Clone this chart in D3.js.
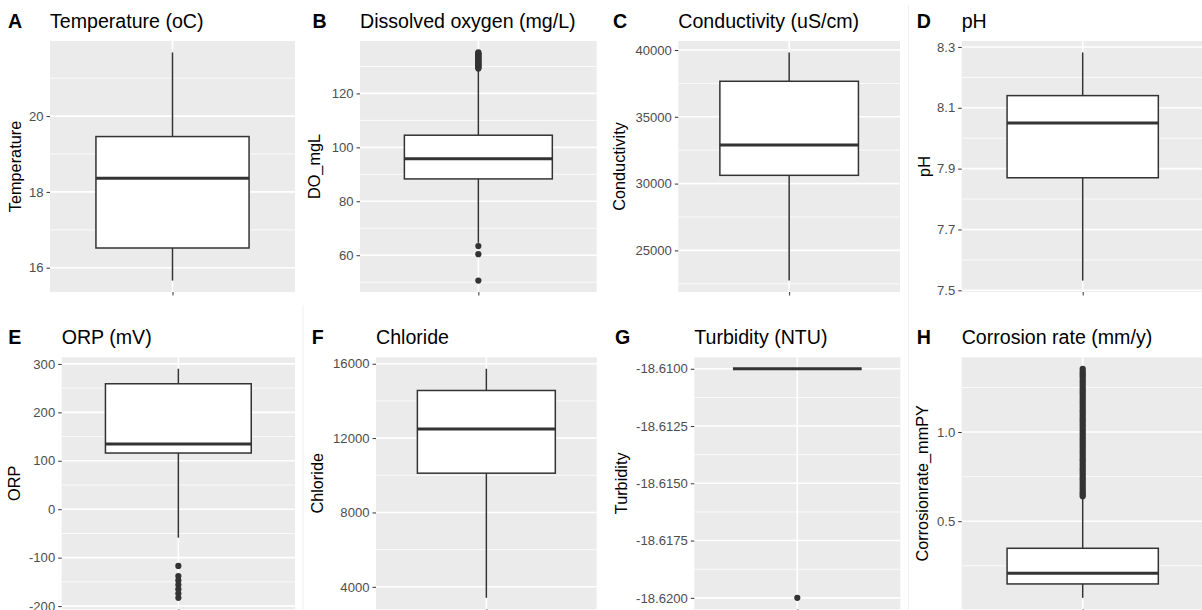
<!DOCTYPE html>
<meta charset="utf-8">
<style>
    body { margin: 0; background: #fff; }
    svg { display: block; font-family: "Liberation Sans", Arial, sans-serif; }
    .tick line { stroke: #333; }
    .tick text { fill: #4d4d4d; font-size: 13.1px; }
</style>

<body>
    <script src="https://d3js.org/d3.v7.min.js"></script>
    <svg width="1202" height="610"></svg>
    <script>
        // panel labels
        var tags = ["A", "B", "C", "D", "E", "F", "G", "H"];
        var titles = ["Temperature (oC)", "Dissolved oxygen (mg/L)", "Conductivity (uS/cm)", "pH",
            "ORP (mV)", "Chloride", "Turbidity (NTU)", "Corrosion rate (mm/y)"];
        var yLabels = ["Temperature", "DO_mgL", "Conductivity", "pH",
            "ORP", "Chloride", "Turbidity", "Corrosionrate_mmPY"];

        // box statistics
        var whiskerLow = [15.66, 64.6, 22740, 7.532, -58.8, 3407, -18.61, 0.070];
        var q1 = [16.52, 88.3, 30620, 7.870, 116, 10113, -18.61, 0.148];
        var medians = [18.36, 95.8, 32890, 8.050, 134.7, 12485, -18.61, 0.208];
        var q3 = [19.46, 104.5, 37660, 8.140, 259, 14561, -18.61, 0.348];
        var whiskerHigh = [21.68, 128.8, 39820, 8.282, 290, 15730, -18.61, 0.630];

        var outliersA = [];
        var outliersB = [50.6, 60.4, 63.4, 129.2, 129.5, 129.8, 130.1, 130.4, 130.7, 131.0, 131.3, 131.6,
            131.9, 132.2, 132.5, 132.8, 133.1, 133.4, 133.7, 134.0, 134.3, 134.6, 134.9, 135.2];
        var outliersC = [];
        var outliersD = [];
        var outliersE = [-117, -138, -147, -156, -165, -174, -183];
        var outliersF = [];
        var outliersG = [-18.62];
        var outliersH = [0.64, 0.65, 0.66, 0.672, 0.685, 0.697, 0.71, 0.722, 0.735, 0.747, 0.76, 0.772,
            0.785, 0.797, 0.81, 0.822, 0.835, 0.847, 0.86, 0.872, 0.885, 0.897, 0.91, 0.922, 0.935, 0.947,
            0.96, 0.972, 0.985, 0.997, 1.01, 1.022, 1.035, 1.047, 1.06, 1.072, 1.085, 1.097, 1.11, 1.122,
            1.135, 1.147, 1.16, 1.172, 1.185, 1.197, 1.21, 1.222, 1.235, 1.247, 1.26, 1.272, 1.285, 1.297,
            1.31, 1.32, 1.33, 1.342, 1.355];
        var outliers = [outliersA, outliersB, outliersC, outliersD, outliersE, outliersF, outliersG, outliersH];

        // y tick labels
        var ticksA = [16, 18, 20];
        var ticksB = [60, 80, 100, 120];
        var ticksC = [25000, 30000, 35000, 40000];
        var ticksD = [7.5, 7.7, 7.9, 8.1, 8.3];
        var ticksE = [-200, -100, 0, 100, 200, 300];
        var ticksF = [4000, 8000, 12000, 16000];
        var ticksG = [-18.62, -18.6175, -18.615, -18.6125, -18.61];
        var ticksH = [0.5, 1.0];
        var ticks = [ticksA, ticksB, ticksC, ticksD, ticksE, ticksF, ticksG, ticksH];
        var decimals = [0, 0, 0, 1, 0, 0, 4, 1];

        // layout of each panel (pixel positions)
        var panelLeft = [50, 360, 678.3, 961.7, 61.7, 376, 694.3, 961.7];
        var panelRight = [295, 596.7, 900, 1203.7, 295, 596.7, 900.3, 1203.7];
        var tagX = [8, 312.5, 613, 916.7, 8.3, 311.7, 615, 916.7];
        var yTitleX = [20.5, 319.8, 624.8, 929.8, 20.3, 323, 626.8, 928.3];
        var rowTop = [41, 357.3], rowBottom = [292, 609.3], rowBase = [27.5, 344];

        var svg = d3.select("svg");

        // faint cell borders seen in the picture
        svg.append("line").attr("x1", 303).attr("x2", 303).attr("y1", 305).attr("y2", 610)
            .attr("stroke", "#f0f0f0");
        svg.append("line").attr("x1", 908.5).attr("x2", 908.5).attr("y1", 5).attr("y2", 610)
            .attr("stroke", "#f0f0f0");

        tags.forEach(function(tag, i) {
            var row = i < 4 ? 0 : 1;
            var top = rowTop[row], bottom = rowBottom[row];
            var left = panelLeft[i], right = panelRight[i];

            var all = [whiskerLow[i], whiskerHigh[i]].concat(outliers[i]);
            var lo = d3.min(all), hi = d3.max(all);
            var pad = (hi - lo) * 0.05;

            var y = d3.scaleLinear().domain([lo - pad, hi + pad]).range([bottom, top]);
            // one discrete category, ggplot expands 0.6 each side
            var x = d3.scaleLinear().domain([0.4, 1.6]).range([left, right]);

            var g = svg.append("g");

            g.append("rect")
                .attr("x", left).attr("y", top)
                .attr("width", right - left).attr("height", bottom - top)
                .attr("fill", "#ebebeb");

            // minor grid halfway between the major breaks
            var t = ticks[i];
            var step = t.length > 1 ? t[1] - t[0] : 0.5;
            var minors = [];
            for (var k = -1; k < t.length; k++) {
                var v = t[0] + step * (k + 0.5);
                if (v >= lo - pad && v <= hi + pad) minors.push(v);
            }
            g.selectAll(".minor").data(minors).enter().append("line")
                .attr("x1", left).attr("x2", right)
                .attr("y1", d => y(d)).attr("y2", d => y(d))
                .attr("stroke", "#fff").attr("stroke-width", 0.8);

            g.selectAll(".major").data(t).enter().append("line")
                .attr("x1", left).attr("x2", right)
                .attr("y1", d => y(d)).attr("y2", d => y(d))
                .attr("stroke", "#fff").attr("stroke-width", 1.6);

            g.append("line")
                .attr("x1", x(1)).attr("x2", x(1))
                .attr("y1", top).attr("y2", bottom)
                .attr("stroke", "#fff").attr("stroke-width", 1.6);

            // whiskers
            g.append("line")
                .attr("x1", x(1)).attr("x2", x(1))
                .attr("y1", y(whiskerHigh[i])).attr("y2", y(q3[i]))
                .attr("stroke", "#333").attr("stroke-width", 1.5);
            g.append("line")
                .attr("x1", x(1)).attr("x2", x(1))
                .attr("y1", y(q1[i])).attr("y2", y(whiskerLow[i]))
                .attr("stroke", "#333").attr("stroke-width", 1.5);

            // box
            g.append("rect")
                .attr("x", x(1 - 0.375)).attr("y", y(q3[i]))
                .attr("width", x(1.375) - x(0.625))
                .attr("height", y(q1[i]) - y(q3[i]))
                .attr("fill", "#fff").attr("stroke", "#333").attr("stroke-width", 1.5);

            g.append("line")
                .attr("x1", x(0.625)).attr("x2", x(1.375))
                .attr("y1", y(medians[i])).attr("y2", y(medians[i]))
                .attr("stroke", "#333").attr("stroke-width", 3);

            g.selectAll(".out").data(outliers[i]).enter().append("circle")
                .attr("cx", x(1)).attr("cy", d => y(d))
                .attr("r", 3.1).attr("fill", "#333");

            // axes
            var yAxis = g.append("g")
                .attr("transform", "translate(" + left + ",0)")
                .call(d3.axisLeft(y).tickValues(t).tickSize(3.5).tickPadding(3)
                    .tickFormat(d => d.toFixed(decimals[i])));
            yAxis.select(".domain").remove();

            var xAxis = g.append("g")
                .attr("transform", "translate(0," + bottom + ")")
                .call(d3.axisBottom(x).tickValues([1]).tickSize(3.5).tickFormat(""));
            xAxis.select(".domain").remove();

            // texts
            g.append("text")
                .attr("x", tagX[i]).attr("y", rowBase[row])
                .style("font-size", "19.6px").style("font-weight", "bold")
                .text(tag);

            g.append("text")
                .attr("x", left).attr("y", rowBase[row])
                .style("font-size", "19.6px")
                .text(titles[i]);

            g.append("text")
                .attr("transform", "translate(" + yTitleX[i] + "," + ((top + bottom) / 2) + ") rotate(-90)")
                .attr("text-anchor", "middle")
                .style("font-size", "16.3px")
                .text(yLabels[i]);
        });
    </script>
</body>
